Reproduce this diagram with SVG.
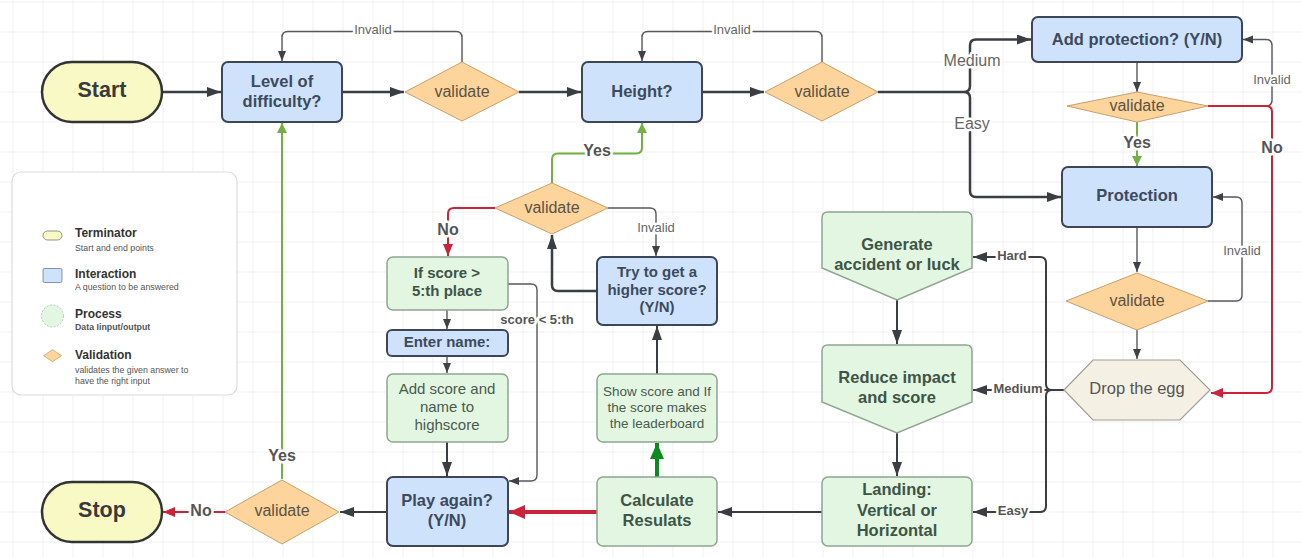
<svg xmlns="http://www.w3.org/2000/svg" width="1302" height="558" viewBox="0 0 1302 558">
<defs>
<pattern id="grid" x="12.5" y="1.5" width="30" height="30" patternUnits="userSpaceOnUse">
<path d="M0,0 V30 M0,0 H30" fill="none" stroke="#e4e4e4" stroke-width="1"/>
</pattern>
<marker id="aD" markerUnits="userSpaceOnUse" markerWidth="15" markerHeight="11" refX="14" refY="5" orient="auto"><path d="M0,0 L14,5 L0,10 Z" fill="#3a3d42"/></marker>
<marker id="aS" markerUnits="userSpaceOnUse" markerWidth="11" markerHeight="9" refX="10" refY="4" orient="auto"><path d="M0,0 L10,4 L0,8 Z" fill="#3f4247"/></marker>
<marker id="aR" markerUnits="userSpaceOnUse" markerWidth="13" markerHeight="11" refX="12" refY="5" orient="auto"><path d="M0,0 L12,5 L0,10 Z" fill="#c9243a"/></marker>
<marker id="aRB" markerUnits="userSpaceOnUse" markerWidth="17" markerHeight="15" refX="16" refY="7" orient="auto"><path d="M0,0 L16,7 L0,14 Z" fill="#c9243a"/></marker>
<marker id="aG" markerUnits="userSpaceOnUse" markerWidth="11" markerHeight="11" refX="10" refY="5" orient="auto"><path d="M0,0 L10,5 L0,10 Z" fill="#72b043"/></marker>
<marker id="aGB" markerUnits="userSpaceOnUse" markerWidth="17" markerHeight="15" refX="16" refY="7" orient="auto"><path d="M0,0 L16,7 L0,14 Z" fill="#0b8a1f"/></marker>
</defs>
<style>
text{font-family:"Liberation Sans",Arial,sans-serif;text-anchor:middle}
.term{fill:#f9f9c6;stroke:#333;stroke-width:2.5}
.blue{fill:#cfe2fc;stroke:#3c4656;stroke-width:2}
.green{fill:#e2f6e2;stroke:#8fa592;stroke-width:1.5}
.dia{fill:#fdd49c;stroke:#c9a06a;stroke-width:1}
.egg{fill:#f4f1e4;stroke:#a19e94;stroke-width:1.2}
.tt{font-weight:bold;font-size:21.5px;fill:#3a3a3a}
.bt{font-weight:bold;font-size:16.5px;fill:#3d4a5c}
.bt15{font-weight:bold;font-size:15px;fill:#3d4a5c}
.gt{font-weight:bold;font-size:16.5px;fill:#3e5446}
.gt15{font-weight:bold;font-size:15px;fill:#3e5446}
.gr{font-size:15px;fill:#4a5a4e}
.gs{font-size:13.5px;fill:#4a5a4e}
.vt{font-size:16px;fill:#5b5243}
.et{font-size:16.5px;fill:#555}
.c{fill:none}
.thick{stroke:#3a3d42;stroke-width:2.5}
.mid{stroke:#3a3d42;stroke-width:2}
.thin{stroke:#55585d;stroke-width:1.4}
.red{stroke:#c9243a;stroke-width:2}
.grn{stroke:#72b043;stroke-width:2}
.lbl{paint-order:stroke;stroke:#fff;stroke-width:5;stroke-linejoin:round}
.inv{font-size:13px;fill:#666}
.yn{font-weight:bold;font-size:16px;fill:#555}
.me{font-size:16px;fill:#666}
.sm{font-weight:bold;font-size:13px;fill:#555}
.lh{font-weight:bold;font-size:12px;fill:#333;text-anchor:start}
.ls{font-size:8.8px;fill:#555;text-anchor:start}
</style>
<rect width="1302" height="558" fill="#fff"/>
<rect width="1302" height="558" fill="url(#grid)"/>

<g id="legend">
<rect x="12" y="172" width="225" height="223" rx="9" fill="#fff" stroke="#dcdcdc" stroke-width="1.2"/>
<rect x="43" y="231" width="19" height="9" rx="4.5" fill="#f9f9c6" stroke="#777" stroke-width="0.8"/>
<text class="lh" x="75" y="237">Terminator</text>
<text class="ls" x="75" y="251">Start and end points</text>
<rect x="43" y="268.5" width="19" height="14" rx="1.5" fill="#cfe2fc" stroke="#6c7a90" stroke-width="0.8"/>
<text class="lh" x="75" y="278">Interaction</text>
<text class="ls" x="75" y="290">A question to be answered</text>
<circle cx="52.5" cy="316" r="11" fill="#e2f6e2" stroke="#b0bcb2" stroke-width="0.8" stroke-dasharray="2,1.5"/>
<text class="lh" x="75" y="318">Process</text>
<text class="ls" x="75" y="330" font-weight="bold">Data Iinput/output</text>
<path d="M43.5,355.7 L52.5,349.7 L61.5,355.7 L52.5,361.7 Z" fill="#fdd49c" stroke="#c9a06a" stroke-width="0.8"/>
<text class="lh" x="75" y="359">Validation</text>
<text class="ls" x="75" y="373">validates the given answer to</text>
<text class="ls" x="75" y="384">have the right input</text>
</g>

<g id="connectors">
<path class="c thick" d="M162,92 H221" marker-end="url(#aD)"/>
<path class="c thick" d="M342,92 H404" marker-end="url(#aD)"/>
<path class="c thick" d="M519,92 H581" marker-end="url(#aD)"/>
<path class="c thick" d="M702,92 H764" marker-end="url(#aD)"/>
<path class="c thin" d="M462,62 V37.5 Q462,31.5 456,31.5 H288 Q282,31.5 282,37.5 V61" marker-end="url(#aS)"/>
<path class="c thin" d="M822,62 V37.5 Q822,31.5 816,31.5 H648 Q642,31.5 642,37.5 V61" marker-end="url(#aS)"/>
<path class="c thick" d="M878,92 H964 Q970,92 970,86 V45.5 Q970,39.5 976,39.5 H1031" marker-end="url(#aD)"/>
<path class="c thick" d="M964,92 Q970,92 970,98 V191 Q970,197 976,197 H1061" marker-end="url(#aD)"/>
<path class="c thin" d="M1137,62 V92" marker-end="url(#aS)"/>
<path class="c thin" d="M1208,106 H1266 Q1272,106 1272,100 V45.5 Q1272,39.5 1266,39.5 H1243" marker-end="url(#aS)"/>
<path class="c red" d="M1208,106 H1266 Q1272,106 1272,112 V387 Q1272,393 1266,393 H1211" marker-end="url(#aR)"/>
<path class="c grn" d="M1137,122 V166" marker-end="url(#aG)"/>
<path class="c thin" d="M1137,227 V272" marker-end="url(#aS)"/>
<path class="c thin" d="M1208,301 H1236 Q1242,301 1242,295 V203 Q1242,197 1236,197 H1213" marker-end="url(#aS)"/>
<path class="c thin" d="M1137,330 V359" marker-end="url(#aS)"/>
<path class="c mid" d="M1064,390 H973" marker-end="url(#aD)"/>
<path class="c mid" d="M1052,390 Q1046,390 1046,384 V263 Q1046,257 1040,257 H973" marker-end="url(#aD)"/>
<path class="c mid" d="M1052,390 Q1046,390 1046,396 V506 Q1046,512 1040,512 H973" marker-end="url(#aD)"/>
<path class="c mid" d="M897,300 V344" marker-end="url(#aD)"/>
<path class="c mid" d="M897,433 V476" marker-end="url(#aD)"/>
<path class="c mid" d="M822,512 H718" marker-end="url(#aD)"/>
<path class="c" stroke="#c9243a" stroke-width="4" d="M597,512 H509" marker-end="url(#aRB)"/>
<path class="c" stroke="#0b8a1f" stroke-width="4" d="M657,477 V443" marker-end="url(#aGB)"/>
<path class="c mid" d="M657,374 V326" marker-end="url(#aD)"/>
<path class="c thick" d="M597,291 H558 Q552,291 552,285 V235" marker-end="url(#aD)"/>
<path class="c grn" d="M552,183 V159.5 Q552,153.5 558,153.5 H636 Q642,153.5 642,147.5 V123" marker-end="url(#aG)"/>
<path class="c red" d="M495,208 H454 Q448,208 448,214 V256" marker-end="url(#aR)"/>
<path class="c thin" d="M608,208 H650 Q656,208 656,214 V256" marker-end="url(#aS)"/>
<path class="c thin" d="M508,284 H531 Q537,284 537,290 V475 Q537,481 531,481 H509" marker-end="url(#aS)"/>
<path class="c thin" d="M447,310 V329" marker-end="url(#aS)"/>
<path class="c thin" d="M447,356 V373" marker-end="url(#aS)"/>
<path class="c mid" d="M447,442 V476" marker-end="url(#aD)"/>
<path class="c mid" d="M387,512 H340" marker-end="url(#aD)"/>
<path class="c grn" d="M282,479 V123" marker-end="url(#aG)"/>
<path class="c red" d="M225,512 H163" marker-end="url(#aR)"/>

<text class="inv lbl" x="373" y="34">Invalid</text>
<text class="inv lbl" x="732" y="34">Invalid</text>
<text class="me lbl" x="972" y="66">Medium</text>
<text class="me lbl" x="972" y="129">Easy</text>
<text class="inv lbl" x="1272" y="84">Invalid</text>
<text class="yn lbl" x="1137" y="147.5" font-size="14">Yes</text>
<text class="yn lbl" x="1272" y="153">No</text>
<text class="inv lbl" x="1242" y="255">Invalid</text>
<text class="sm lbl" x="1012" y="260">Hard</text>
<text class="sm lbl" x="1018" y="393">Medium</text>
<text class="sm lbl" x="1013" y="515">Easy</text>
<text class="yn lbl" x="597" y="156">Yes</text>
<text class="yn lbl" x="448" y="235">No</text>
<text class="inv lbl" x="656" y="232">Invalid</text>
<text class="sm lbl" x="537" y="324" font-size="11.5">score &lt; 5:th</text>
<text class="yn lbl" x="282" y="461">Yes</text>
<text class="yn lbl" x="201" y="516">No</text>
</g>

<g id="start"><rect class="term" x="42" y="62" width="120" height="60" rx="30"/><text class="tt" x="102" y="97">Start</text></g>
<g id="level"><rect class="blue" x="222" y="62" width="120" height="60" rx="6"/><text class="bt" x="282" y="87">Level of</text><text class="bt" x="282" y="107">difficulty?</text></g>
<g id="validate1"><path class="dia" d="M405,92 L462,62 L519,92 L462,121 Z"/><text class="vt" x="462" y="96.5">validate</text></g>
<g id="height"><rect class="blue" x="582" y="62" width="120" height="60" rx="6"/><text class="bt" x="642" y="97">Height?</text></g>
<g id="validate2"><path class="dia" d="M765,92 L822,62 L878,92 L822,121 Z"/><text class="vt" x="822" y="96.5">validate</text></g>
<g id="addprot"><rect class="blue" x="1032" y="17" width="210" height="45" rx="6"/><text class="bt" x="1137" y="45">Add protection? (Y/N)</text></g>
<g id="validate3"><path class="dia" d="M1067,106 L1137,92 L1208,106 L1137,122 Z"/><text class="vt" x="1137" y="111" font-size="15">validate</text></g>
<g id="protection"><rect class="blue" x="1062" y="167" width="150" height="60" rx="6"/><text class="bt" x="1137" y="201">Protection</text></g>
<g id="validate4"><path class="dia" d="M1066,301 L1137,273 L1208,301 L1137,330 Z"/><text class="vt" x="1137" y="306">validate</text></g>
<g id="dropegg"><path class="egg" d="M1064,390 L1093,360 H1180 L1210,390 L1180,420 H1093 Z"/><text class="et" x="1137" y="394">Drop the egg</text></g>
<g id="generate"><path class="green" d="M828,212 H966 Q972,212 972,218 V268 L897,300 L822,268 V218 Q822,212 828,212 Z"/><text class="gt" x="897" y="250">Generate</text><text class="gt" x="897" y="270">accident or luck</text></g>
<g id="reduce"><path class="green" d="M828,345 H966 Q972,345 972,351 V402 L897,433 L822,402 V351 Q822,345 828,345 Z"/><text class="gt" x="897" y="383">Reduce impact</text><text class="gt" x="897" y="403">and score</text></g>
<g id="landing"><rect class="green" x="822" y="477" width="150" height="69" rx="6"/><text class="gt" x="897" y="495">Landing:</text><text class="gt" x="897" y="515.5">Vertical or</text><text class="gt" x="897" y="535.5">Horizontal</text></g>
<g id="calculate"><rect class="green" x="597" y="477" width="120" height="69" rx="6"/><text class="gt" x="657" y="505.5">Calculate</text><text class="gt" x="657" y="525.5">Resulats</text></g>
<g id="showscore"><rect class="green" x="597" y="374" width="120" height="68" rx="6"/><text class="gs" x="657" y="396">Show score and If</text><text class="gs" x="657" y="411.5">the score makes</text><text class="gs" x="657" y="427.5">the leaderboard</text></g>
<g id="tryagain"><rect class="blue" x="597" y="257" width="120" height="68" rx="6"/><text class="bt15" x="657" y="276.5">Try to get a</text><text class="bt15" x="657" y="294.5">higher score?</text><text class="bt15" x="657" y="312">(Y/N)</text></g>
<g id="validate5"><path class="dia" d="M495,208 L552,183 L608,208 L552,234 Z"/><text class="vt" x="552" y="213">validate</text></g>
<g id="ifscore"><rect class="green" x="387" y="257" width="121" height="53" rx="6"/><text class="gt15" x="447" y="277.5">If score &gt;</text><text class="gt15" x="447" y="296">5:th place</text></g>
<g id="entername"><rect class="blue" x="387" y="330" width="121" height="26" rx="5"/><text class="bt15" x="447" y="347">Enter name:</text></g>
<g id="addscore"><rect class="green" x="387" y="374" width="121" height="68" rx="6"/><text class="gr" x="447" y="394">Add score and</text><text class="gr" x="447" y="412">name to</text><text class="gr" x="447" y="430">highscore</text></g>
<g id="playagain"><rect class="blue" x="387" y="477" width="121" height="69" rx="6"/><text class="bt" x="447" y="505.5">Play again?</text><text class="bt" x="447" y="525.5">(Y/N)</text></g>
<g id="validate6"><path class="dia" d="M225,512 L282,480 L339,512 L282,544 Z"/><text class="vt" x="282" y="516">validate</text></g>
<g id="stop"><rect class="term" x="42" y="482" width="120" height="60" rx="30"/><text class="tt" x="102" y="516.5">Stop</text></g>
</svg>
